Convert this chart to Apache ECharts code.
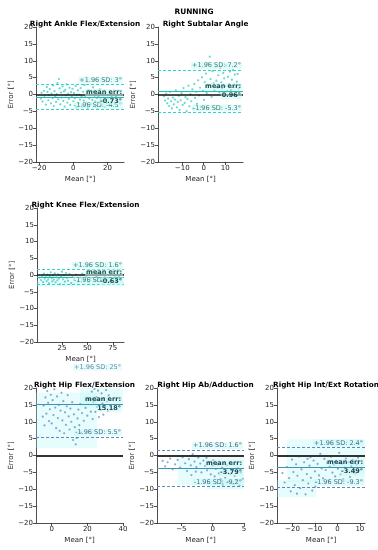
<!DOCTYPE html>
<html><head><meta charset="utf-8">
<script src="https://cdn.jsdelivr.net/npm/echarts@6/dist/echarts.min.js"></script>
<style>html,body{margin:0;padding:0;background:#fff}#c{width:378px;height:550px}</style>
</head><body><div id="c"></div>
<script>
const mainTitle = 'RUNNING';
const panelTitles = ['Right Ankle Flex/Extension','Right Subtalar Angle','Right Knee Flex/Extension','Right Hip Flex/Extension','Right Hip Ab/Adduction','Right Hip Int/Ext Rotation'];
const xName = 'Mean [°]';
const yName = 'Error [°]';
const yTicks = [-20,-15,-10,-5,0,5,10,15,20];

const anklePts = [[-19,-1.2],[-18.5,0.5],[-18,-2.1],[-17.2,1.1],[-16.8,-0.4],[-16,-3.0],[-15.5,2.2],[-15.1,0.8],[-14.6,-1.7],[-14.2,-0.2],[-13.8,1.6],[-13.1,-2.6],[-12.7,0.3],[-12.2,-1.0],[-11.9,2.7],[-11.4,-3.4],[-11,1.0],[-10.6,-0.6],[-10.1,-2.2],[-9.7,0.1],[-9.3,3.4],[-8.8,-1.4],[-8.4,4.6],[-8.0,1.8],[-7.6,-2.9],[-7.2,0.6],[-6.8,-0.9],[-6.3,2.4],[-5.9,-1.9],[-5.5,0.9],[-5.1,-3.6],[-4.7,1.4],[-4.3,-0.3],[-3.9,3.0],[-3.5,-2.4],[-3.0,0.2],[-2.6,-1.3],[-2.2,2.0],[-1.8,-3.1],[-1.3,0.7],[-0.9,-0.7],[-0.5,1.7],[0,-2.0],[0.4,0.4],[0.8,-1.1],[1.3,2.5],[1.7,-3.8],[2.1,-0.1],[2.6,1.2],[3.0,-2.7],[3.4,0.0],[3.9,-1.5],[4.3,1.9],[4.8,-0.5],[5.2,-3.3],[5.7,0.8],[6.1,-1.8],[6.6,2.8],[7.0,-0.8],[7.5,-2.5],[7.9,0.5],[8.4,-4.0],[8.8,1.3],[9.3,-1.2],[9.7,-0.2],[10.2,-2.8],[10.6,1.0],[11.1,-1.6],[11.5,2.1],[12.0,-3.5],[12.4,-0.4],[12.9,-2.1],[13.3,0.9],[13.8,-1.0],[14.2,-4.3],[14.7,-0.6],[15.1,-2.3],[15.6,1.5],[16,-1.4],[16.5,-3.0],[17,0.3],[17.4,-2.0],[17.9,-0.9],[18.3,-3.7],[18.8,0.6],[19.2,-1.7],[19.7,-2.6],[20.1,-0.3],[20.6,-1.1],[21,-3.2],[21.5,0.2],[22,-2.2],[22.4,-0.7],[23,-1.5],[24,-2.8],[25,-0.5]];
const subtalarPts = [[-18.5,-0.5],[-18,-1.8],[-17.5,0.3],[-17,-2.6],[-16.6,-1.2],[-16.1,-3.4],[-15.7,0.8],[-15.2,-2.0],[-14.8,-4.1],[-14.3,-0.9],[-13.9,-2.9],[-13.4,-1.5],[-13,1.2],[-12.5,-3.8],[-12.1,-2.2],[-11.6,-0.4],[-11.2,-4.6],[-10.7,-1.7],[-10.3,0.4],[-9.8,-3.1],[-9.4,1.9],[-8.9,-2.5],[-8.5,-0.8],[-8,-4.9],[-7.6,-1.3],[-7.1,2.6],[-6.7,-3.5],[-6.2,0.1],[-5.8,-2.0],[-5.3,1.5],[-4.9,-4.2],[-4.4,3.1],[-4,-1.0],[-3.5,0.8],[-3.1,-2.8],[-2.6,4.2],[-2.2,-0.3],[-1.7,2.0],[-1.3,-3.6],[-0.8,5.1],[-0.4,1.1],[0.1,-1.6],[0.5,3.7],[1,6.2],[1.4,0.4],[1.9,9.3],[2.3,2.8],[2.8,11.2],[3.2,4.6],[3.7,-0.7],[4.1,6.9],[4.6,3.3],[5,1.2],[5.5,8.2],[5.9,4.1],[6.4,2.0],[6.8,5.7],[7.3,0.6],[7.7,7.8],[8.2,3.6],[8.6,1.7],[9.1,6.4],[9.5,4.8],[10,2.5],[10.4,8.6],[10.9,0.9],[11.3,5.2],[11.8,3.0],[12.2,6.8],[12.7,1.4],[13.1,4.4],[13.6,7.2],[14,2.2],[14.5,5.9],[14.9,0.2],[15.4,3.8],[15.8,6.1],[16.3,1.8]];
const kneePts = [[3,-0.8],[4.5,-1.5],[5.5,-0.3],[6.5,-2.1],[7.2,0.4],[8,-1.1],[9,-0.6],[10,-1.8],[10.8,0.1],[11.5,-1.3],[12.3,-2.5],[13,-0.4],[14,0.8],[14.8,-1.0],[15.5,-1.9],[16.3,-0.2],[17,-1.4],[18,0.5],[18.8,-2.2],[19.5,-0.7],[20.5,-1.6],[21.3,0.2],[22,-1.1],[23,-2.7],[24,-0.5],[25,1.0],[26,-1.3],[27,-0.1],[28,-2.0],[29,0.6],[30,-0.9],[31,-1.7],[32.5,0.3],[34,-2.4],[35.5,-0.6],[37,-1.2],[39,0.1],[41,-1.9],[43,-0.8],[45,0.4],[47,-1.4],[49,-0.3],[51,-2.1],[53,-0.9],[55,0.7],[57,-1.5],[59,-0.5],[61,-1.0],[63,0.2],[65,-1.8],[67,-0.7],[69,-1.3],[71,0.0],[73,-2.3],[75,-0.9],[77,-0.2],[79,-1.6],[81,-0.6],[83,-1.1]];
const hipFlexPts = [[-5,11.5],[-4.5,14.8],[-4,8.9],[-3.5,17.2],[-3,12.4],[-2.5,19.1],[-2,15.6],[-1.5,10.2],[-1,13.7],[-0.5,18.0],[0,9.5],[0.5,16.4],[1,12.0],[1.5,19.6],[2,14.2],[2.5,8.1],[3,17.5],[3.5,11.1],[4,15.0],[4.5,7.3],[5,13.3],[5.5,18.6],[6,10.4],[6.5,16.1],[7,6.6],[7.5,12.8],[8,9.1],[8.5,14.6],[9,17.9],[9.5,11.6],[10,7.7],[10.5,13.9],[11,10.0],[11.5,15.8],[12,4.6],[12.5,12.2],[13,8.4],[13.5,3.3],[14,5.2],[14.5,11.0],[15,13.6],[15.5,9.0],[16,15.2],[16.5,6.8],[17,12.6],[18,10.3],[19,14.1],[20,11.8],[21,16.5],[22,13.0],[22.5,18.9],[23,10.8],[23.5,15.9],[24,19.7],[24.5,12.9],[25,17.3],[25.5,14.4],[26,19.2],[26.5,11.4],[27,16.8],[27.5,13.5],[28,18.4],[28.5,15.5],[29,12.1],[29.5,17.0],[30,14.7],[30.5,19.4],[31,16.0],[31.5,13.2],[32,17.8]];
const hipAbPts = [[-8,-1.6],[-7.6,-3.2],[-7.2,-2.0],[-6.8,-0.9],[-6.4,-4.1],[-6,-2.6],[-5.6,-1.3],[-5.2,-3.6],[-4.8,-0.5],[-4.4,-2.3],[-4.1,-4.6],[-3.8,-1.1],[-3.5,-2.9],[-3.2,0.4],[-2.9,-1.8],[-2.6,-3.4],[-2.3,-0.6],[-2.0,-2.4],[-1.8,-5.0],[-1.5,-1.5],[-1.2,-3.1],[-0.9,-4.4],[-0.6,-2.0],[-0.3,-5.6],[0,-3.0],[0.3,-6.2],[0.5,-4.0],[0.8,-2.7],[1.0,-5.3],[1.3,-7.0],[1.5,-3.6],[1.8,-4.8],[2.0,-6.6],[2.3,-2.9],[2.5,-7.8],[2.8,-5.5],[3.0,-4.2],[3.3,-8.4],[3.5,-6.1],[3.8,-7.3],[4.0,-3.8],[4.3,-8.9],[4.5,-5.0],[4.8,-6.9],[-2.7,-4.8],[-1,-0.7],[0.1,-1.4],[-3.4,-5.8],[1.6,-8.7]];
const hipRotPts = [[-24.5,-5.2],[-23.5,-8.0],[-22.5,-3.4],[-21.5,-6.7],[-20.8,-10.6],[-20.2,-1.2],[-19.6,-4.9],[-19,-8.8],[-18.4,-2.6],[-17.8,-6.0],[-17.2,-0.3],[-16.6,-9.7],[-16,-4.1],[-15.4,-7.3],[-14.8,-2.0],[-14.2,-11.5],[-13.6,-5.5],[-13,-8.3],[-12.4,-3.0],[-11.8,-6.6],[-11.2,-10.4],[-10.6,-1.5],[-10,-4.7],[-9.4,-7.9],[-8.8,-2.5],[-8.2,-5.9],[-7.6,0.5],[-7,-3.8],[-6.4,-6.8],[-5.8,-1.0],[-5.2,-4.3],[-4.6,-2.2],[-4,-7.4],[-3.4,-3.3],[-2.8,-0.4],[-2.2,-5.1],[-1.6,-2.8],[-1,-6.2],[-0.4,-1.7],[0.2,-3.9],[0.8,0.8],[1.4,-5.6],[2,-2.4],[2.6,-7.1],[3.2,-3.6],[3.8,-0.9],[4.4,-4.6],[5,-2.0],[5.6,-6.4],[6.2,-3.1],[6.8,-1.3],[7.4,-4.2],[8,-5.3],[8.6,-2.7],[9.2,-0.6],[-18,-11.3],[-13.3,-1.0],[-9.8,-9.2],[-12,-0.5]];

const upperSD = [3, 7.2, 1.6, 25, 1.6, 2.4];
const meanErr = [-0.73, 0.96, -0.63, 15.18, -3.79, -3.49];
const lowerSD = [-4.5, -5.3, -2.9, 5.5, -9.2, -9.3];
const upperTxt = ['+1.96 SD: 3°','+1.96 SD: 7.2°','+1.96 SD: 1.6°','+1.96 SD: 25°','+1.96 SD: 1.6°','+1.96 SD: 2.4°'];
const meanTxt = ['-0.73°','0.96°','-0.63°','15.18°','-3.79°','-3.49°'];
const lowerTxt = ['-1.96 SD: -4.5°','-1.96 SD: -5.3°','-1.96 SD: -2.9°','-1.96 SD: 5.5°','-1.96 SD: -9.2°','-1.96 SD: -9.3°'];

const xMin = [-21.8, -21.3, 0.5, -8.8, -8.9, -26.9];
const xMax = [29.6, 18.3, 86, 40, 5, 12.3];
const xTicks = [[-20,0,20],[-10,0,10],[25,50,75],[0,20,40],[-5,0,5],[-20,-10,0,10]];

// faint highlight boxes (data coords): [panel, x0, y0, x1, y1]
const boxes = [
  [3, -8.8, 2.2, 25.5, 18.6],[3, 16, 14.2, 40, 20],
  [4, -5.6, -8.8, 5, -0.5],[4, -1, -10, 5, -7.2],
  [5, -22.5, -7.9, 12.3, 4.8],[5, -26.9, -12.4, -9.5, -7.3],
  [2, 0.5, -3.4, 86, -1.6]
];

const pointsList = [anklePts, subtalarPts, kneePts, hipFlexPts, hipAbPts, hipRotPts];
const grids = [
  {left:36, top:27, width:88, height:135},
  {left:158, top:27, width:85, height:135},
  {left:37, top:208, width:87, height:134},
  {left:36, top:388, width:87, height:135},
  {left:157, top:388, width:87, height:135},
  {left:277, top:388, width:88, height:135}
];
const font = 'DejaVu Sans';
const minus = v => String(v).replace('-', '\u2212');

const teal = {pt:'rgba(24,200,184,0.85)', dash:'#34d5c8', mean:'#20c0b4', zero:'#111', zw:1.5, txt:'#3d7d78', mtxt:'#1c4e4b'};
const blue = {pt:'rgba(70,120,180,0.8)', dash:'#5f86c2', mean:'#3a95b5', zero:'#333', zw:2, txt:'#4a6a8a', mtxt:'#1e4050'};
const lblBg = 'rgba(200,250,246,0.55)';

const series = pointsList.map((pts,i)=>{
  const th = i < 3 ? teal : blue;
  const lblBase = {show:true, position:'insideEndTop', distance:[1,1], fontFamily:font, fontSize:6.5, color:th.txt, backgroundColor:lblBg, padding:[0,1]};
  const lines = [
    {yAxis:0, lineStyle:{color:th.zero, width:th.zw, type:'solid'}, label:{show:false}},
    {yAxis:lowerSD[i], lineStyle:{color:th.dash, width:1, type:[3,2]}, label:Object.assign({}, lblBase, {formatter:lowerTxt[i]})},
    {yAxis:meanErr[i], lineStyle:{color:th.mean, width:1.1, type:'solid'}, label:Object.assign({}, lblBase, {formatter:'mean err:', fontWeight:'bold', color:th.mtxt})},
    {yAxis:meanErr[i], lineStyle:{color:th.mean, width:1.1, type:'solid'}, label:Object.assign({}, lblBase, {position:'insideEndBottom', formatter:meanTxt[i], fontWeight:'bold', color:th.mtxt})}
  ];
  if (upperSD[i] <= 20) lines.push({yAxis:upperSD[i], lineStyle:{color:th.dash, width:1, type:[3,2]}, label:Object.assign({}, lblBase, {formatter:upperTxt[i]})});
  return {
    type:'scatter', xAxisIndex:i, yAxisIndex:i, data:pts, symbolSize:2.2,
    itemStyle:{color:th.pt},
    markArea:{silent:true, itemStyle:{color:'rgba(170,245,245,0.28)'},
      data: boxes.filter(b=>b[0]===i).map(b=>[{coord:[b[1],b[2]]},{coord:[b[3],b[4]]}])},
    markLine:{silent:true, symbol:'none', animation:false, data:lines}
  };
});
// out-of-range limit labels (drawn outside the axes like the original)
pointsList.forEach((pts,i)=>{
  if (upperSD[i] > 20) {
    const th = i < 3 ? teal : blue;
    series.push({type:'scatter', xAxisIndex:i, yAxisIndex:i, clip:false, symbolSize:0, silent:true,
      data:[[xMax[i], upperSD[i]]],
      label:{show:true, position:'left', distance:1, offset:[0,-4], formatter:upperTxt[i], fontFamily:font, fontSize:6.5, color:th.txt, backgroundColor:lblBg, padding:[0,1]}});
  }
});

const option = {
  animation:false,
  backgroundColor:'#fff',
  title:[{text:mainTitle, left:189, top:4, textAlign:'center', textStyle:{fontFamily:font, fontSize:7.4, fontWeight:'bold', color:'#000'}}]
    .concat(grids.map((g,i)=>({text:panelTitles[i], left:g.left+g.width/2, top:g.top-11, textAlign:'center', textStyle:{fontFamily:font, fontSize:7.3, fontWeight:'bold', color:'#000'}}))),
  grid: grids.map(g=>Object.assign({containLabel:false}, g)),
  xAxis: grids.map((g,i)=>({
    gridIndex:i, type:'value', min:xMin[i], max:xMax[i],
    name:xName, nameLocation:'middle', nameGap:14,
    nameTextStyle:{fontFamily:font, fontSize:7, color:'#222'},
    splitLine:{show:false},
    axisLine:{onZero:false, lineStyle:{color:'#222', width:0.8}},
    axisTick:{customValues:xTicks[i], length:3, lineStyle:{color:'#222', width:0.8}},
    axisLabel:{customValues:xTicks[i], formatter:minus, fontFamily:font, fontSize:7, color:'#222', margin:3}
  })),
  yAxis: grids.map((g,i)=>({
    gridIndex:i, type:'value', min:-20, max:20,
    name:yName, nameLocation:'middle', nameGap:21, nameRotate:90,
    nameTextStyle:{fontFamily:font, fontSize:7, color:'#222'},
    splitLine:{show:false},
    axisLine:{onZero:false, lineStyle:{color:'#222', width:0.8}},
    axisTick:{customValues:yTicks, length:3, lineStyle:{color:'#222', width:0.8}},
    axisLabel:{customValues:yTicks, formatter:minus, fontFamily:font, fontSize:7, color:'#222', margin:3}
  })),
  series: series
};
const chart = echarts.init(document.getElementById('c'), null, {renderer:'canvas'});
chart.setOption(option);
</script></body></html>
